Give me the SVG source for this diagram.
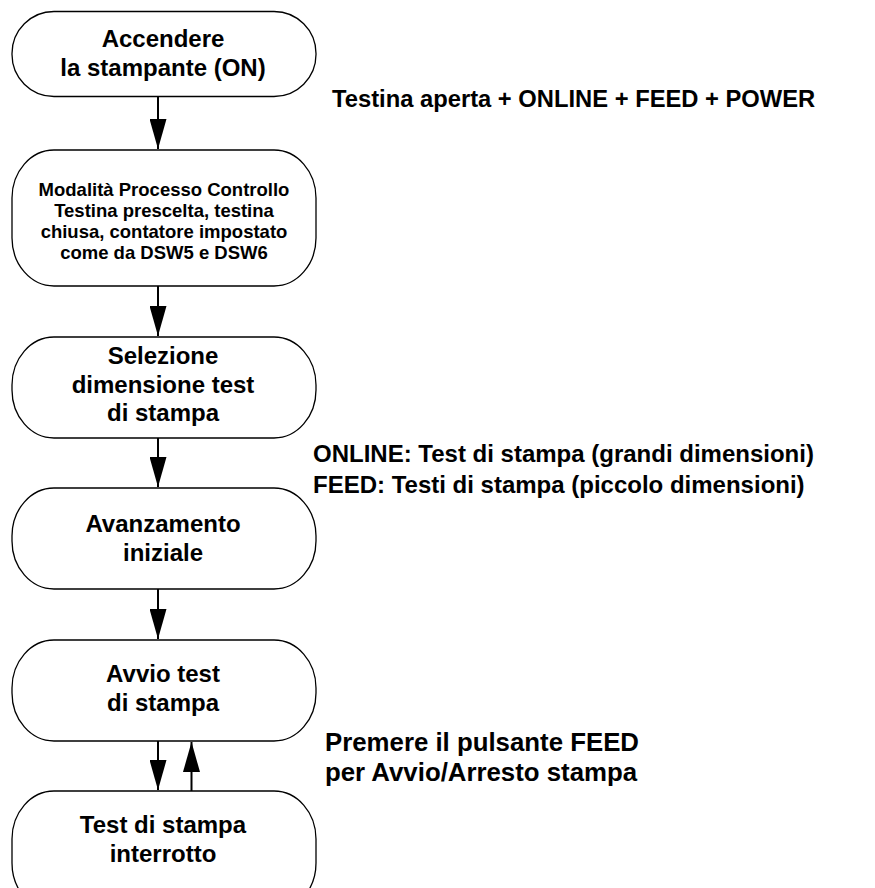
<svg xmlns="http://www.w3.org/2000/svg" width="875" height="888" viewBox="0 0 875 888">
  <style>
    .node rect { fill: #ffffff; stroke: #000000; stroke-width: 1.3; }
    .node text { font-family: "Liberation Sans", Arial, sans-serif; font-weight: bold; font-size: 24px; fill: #000000; text-anchor: middle; }
    .node text.small { font-size: 18.5px; }
    .note { font-family: "Liberation Sans", Arial, sans-serif; font-weight: bold; font-size: 24px; fill: #000000; }
    .note.n1 { font-size: 23.75px; }
    .note.n3 { font-size: 25.8px; }
    .conn line { stroke: #000000; stroke-width: 2; }
  </style>
  <defs>
    <marker id="arrow" markerUnits="userSpaceOnUse" markerWidth="30" markerHeight="17" viewBox="0 0 30 17" refX="30" refY="8.5" orient="auto">
      <path d="M0,0 L30,8.5 L0,17 Z" fill="#000000"/>
    </marker>
  </defs>
  <rect width="875" height="888" fill="#ffffff"/>

  <g id="connectors" class="conn">
    <line x1="158" y1="97" x2="158" y2="149" marker-end="url(#arrow)"/>
    <line x1="158" y1="286" x2="158" y2="336" marker-end="url(#arrow)"/>
    <line x1="158" y1="438" x2="158" y2="487" marker-end="url(#arrow)"/>
    <line x1="158" y1="589" x2="158" y2="639" marker-end="url(#arrow)"/>
    <line x1="158" y1="741" x2="158" y2="790" marker-end="url(#arrow)"/>
    <line x1="191.5" y1="791" x2="191.5" y2="742" marker-end="url(#arrow)"/>
  </g>

  <g id="node1" class="node">
    <rect x="12" y="11.5" width="304" height="85" rx="42" ry="42"/>
    <text x="163" y="47">Accendere</text>
    <text x="163" y="76">la stampante (ON)</text>
  </g>

  <g id="node2" class="node">
    <rect x="12" y="150" width="304" height="136" rx="42" ry="48"/>
    <text class="small" x="164" y="196">Modalità Processo Controllo</text>
    <text class="small" x="164" y="217">Testina prescelta, testina</text>
    <text class="small" x="164" y="238">chiusa, contatore impostato</text>
    <text class="small" x="164" y="259">come da DSW5 e DSW6</text>
  </g>

  <g id="node3" class="node">
    <rect x="12" y="337" width="304" height="101" rx="42" ry="48"/>
    <text x="163" y="363.5">Selezione</text>
    <text x="163" y="392.5">dimensione test</text>
    <text x="163" y="421">di stampa</text>
  </g>

  <g id="node4" class="node">
    <rect x="12" y="488" width="304" height="101" rx="42" ry="48"/>
    <text x="163" y="532">Avanzamento</text>
    <text x="163" y="561">iniziale</text>
  </g>

  <g id="node5" class="node">
    <rect x="12" y="640" width="304" height="101" rx="42" ry="48"/>
    <text x="163" y="682">Avvio test</text>
    <text x="163" y="711">di stampa</text>
  </g>

  <g id="node6" class="node">
    <rect x="12" y="791" width="304" height="120" rx="42" ry="48"/>
    <text x="163" y="833">Test di stampa</text>
    <text x="163" y="862">interrotto</text>
  </g>

  <g id="notes">
    <text class="note n1" x="332" y="107">Testina aperta + ONLINE + FEED + POWER</text>
    <text class="note" x="313" y="461.5">ONLINE: Test di stampa (grandi dimensioni)</text>
    <text class="note" x="313" y="493">FEED: Testi di stampa (piccolo dimensioni)</text>
    <text class="note n3" x="325" y="751">Premere il pulsante FEED</text>
    <text class="note n3" x="325" y="781">per Avvio/Arresto stampa</text>
  </g>
</svg>
